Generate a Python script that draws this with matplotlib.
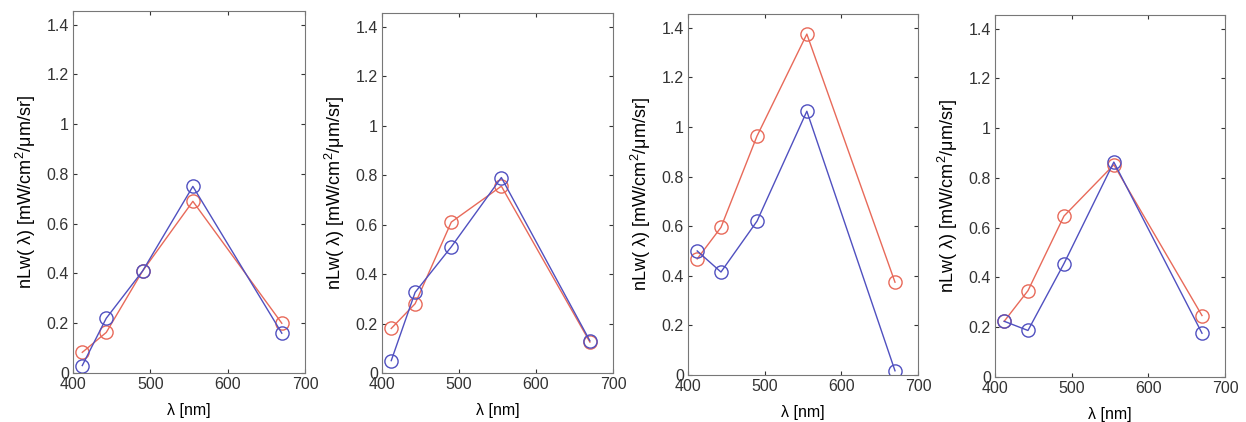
import matplotlib
matplotlib.use("Agg")
import matplotlib.pyplot as plt

plt.rcParams['font.family'] = ['Liberation Sans', 'DejaVu Sans']
plt.rcParams['mathtext.fontset'] = 'custom'
plt.rcParams['mathtext.rm'] = 'Liberation Sans'

wavelengths = [412, 443, 490, 555, 670]

blue_1 = [0.03, 0.22, 0.41, 0.75, 0.16]
red_1 = [0.083, 0.163, 0.41, 0.69, 0.20]
blue_2 = [0.05, 0.326, 0.51, 0.79, 0.13]
red_2 = [0.18, 0.28, 0.61, 0.755, 0.125]
blue_3 = [0.50, 0.415, 0.62, 1.063, 0.017]
red_3 = [0.468, 0.595, 0.963, 1.374, 0.374]
blue_4 = [0.224, 0.187, 0.456, 0.864, 0.176]
red_4 = [0.224, 0.347, 0.647, 0.853, 0.247]

blues = [blue_1, blue_2, blue_3, blue_4]
reds = [red_1, red_2, red_3, red_4]

xticks = [400, 500, 600, 700]
yticks = [0, 0.2, 0.4, 0.6, 0.8, 1.0, 1.2, 1.4]
ytick_labels = ['0', '0.2', '0.4', '0.6', '0.8', '1', '1.2', '1.4']

W, H = 1246, 422
fig = plt.figure(figsize=(W / 100, H / 100), dpi=100)

# axes boxes in pixels: left, right, top, bottom
boxes = [(73, 305, 11, 373), (382, 613, 13, 373), (688, 918, 14, 375), (995, 1225, 15, 377)]

blue_c = '#5050c0'
red_c = '#e86a5a'

for (l, r, t, b), bl, rd in zip(boxes, blues, reds):
    ax = fig.add_axes([l / W, 1 - b / H, (r - l) / W, (b - t) / H])
    ax.plot(wavelengths, rd, '-o', color=red_c, mfc='none', mec=red_c, ms=9.5, lw=1.0, mew=1.0)
    ax.plot(wavelengths, bl, '-o', color=blue_c, mfc='none', mec=blue_c, ms=9.5, lw=1.0, mew=1.0)
    ax.set_xlim(400, 700)
    ax.set_ylim(0, 1.455)
    ax.set_xticks(xticks)
    ax.set_yticks(yticks)
    ax.set_yticklabels(ytick_labels)
    ax.tick_params(direction='in', length=3, labelsize=11.5, top=True, right=True, colors='#333333', pad=3)
    for s in ax.spines.values():
        s.set_color('#777777')
        s.set_linewidth(0.8)
    ax.set_xlabel('λ [nm]', fontsize=11.5, labelpad=8)
    ax.set_ylabel('nLw( λ) [mW/cm$^2$/μm/sr]', fontsize=13, labelpad=6)

fig.savefig('out.png', dpi=100)
